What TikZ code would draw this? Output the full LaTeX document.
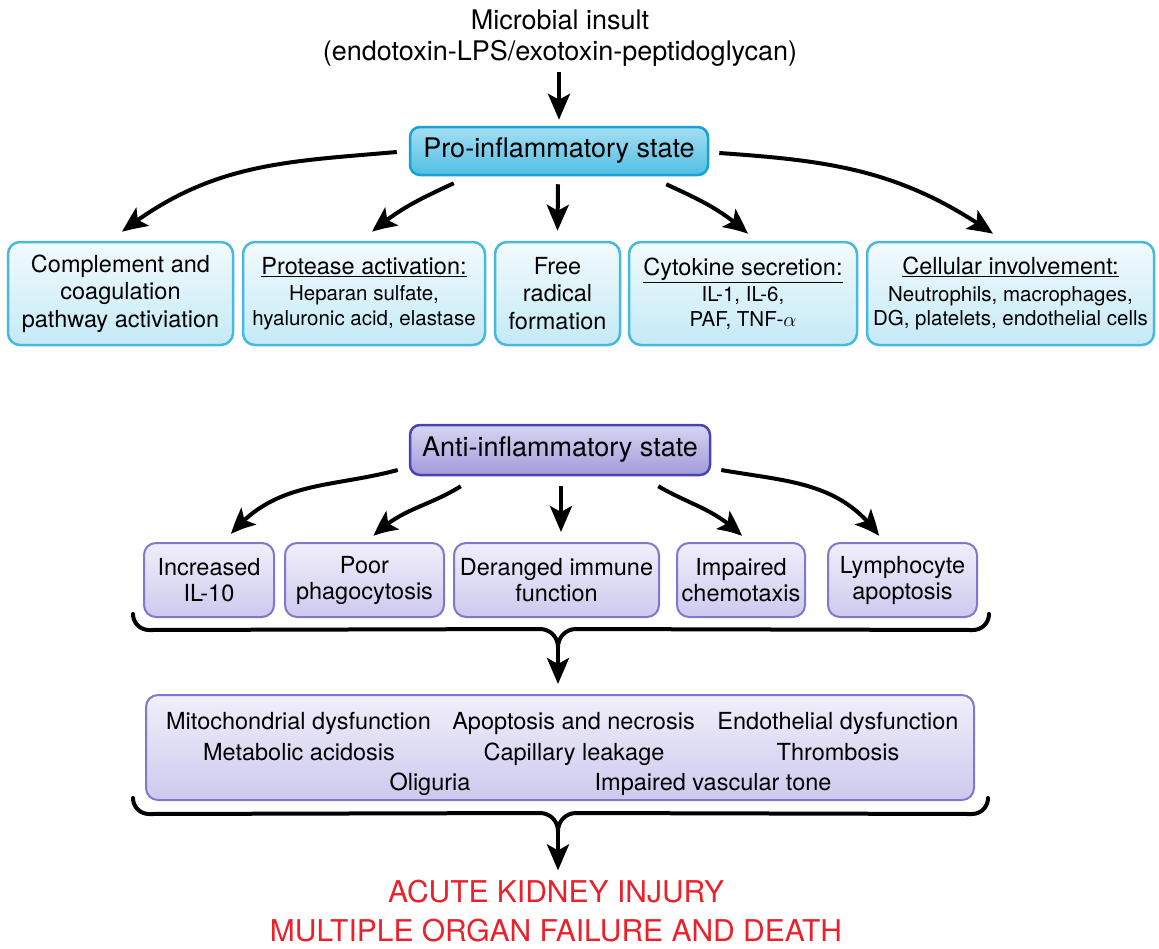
\documentclass[tikz,border=0pt]{standalone}
\usepackage{fontspec}
\setmainfont{TeX Gyre Heros}
\usetikzlibrary{arrows.meta,bending,calc}
\definecolor{proDraw}{RGB}{25,160,212}
\definecolor{proTop}{RGB}{165,222,242}
\definecolor{proBot}{RGB}{80,190,228}
\definecolor{cyDraw}{RGB}{70,185,225}
\definecolor{cyTop}{RGB}{242,250,253}
\definecolor{cyBot}{RGB}{196,234,246}
\definecolor{antiDraw}{RGB}{72,68,178}
\definecolor{antiTop}{RGB}{215,213,242}
\definecolor{antiBot}{RGB}{160,155,218}
\definecolor{laDraw}{RGB}{128,120,204}
\definecolor{laTop}{RGB}{240,239,250}
\definecolor{laBot}{RGB}{205,201,238}
\definecolor{akiRed}{RGB}{236,32,42}
\newcommand\fTitle{\fontsize{27pt}{31pt}\selectfont}
\newcommand\fState{\fontsize{27pt}{31pt}\selectfont}
\newcommand\fBox{\fontsize{23.5pt}{27.5pt}\selectfont}
\newcommand\fSub{\fontsize{20.5pt}{23.5pt}\selectfont}
\newcommand\fRed{\fontsize{30pt}{36pt}\selectfont}
\begin{document}
\begin{tikzpicture}[x=1pt,y=1pt,
  arr/.style={line width=4pt,-{Stealth[length=26pt,width=22pt,inset=6pt,bend]}},
  probox/.style={draw=proDraw,line width=2.5pt,rounded corners=10pt,top color=proTop,bottom color=proBot,align=center,font=\fState,inner sep=0pt},
  cybox/.style={draw=cyDraw,line width=2.5pt,rounded corners=12pt,top color=cyTop,bottom color=cyBot,align=center,font=\fBox,inner sep=0pt},
  antibox/.style={draw=antiDraw,line width=2.5pt,rounded corners=10pt,top color=antiTop,bottom color=antiBot,align=center,font=\fState,inner sep=0pt},
  labox/.style={draw=laDraw,line width=2pt,rounded corners=12pt,top color=laTop,bottom color=laBot,align=center,font=\fontsize{23.5pt}{26pt}\selectfont,inner sep=0pt},
  itemtxt/.style={font=\fBox,anchor=base,inner sep=0pt},
  redtxt/.style={font=\fRed,text=akiRed,anchor=base,inner sep=0pt},
  bracestyle/.style={line width=4pt,line cap=round,line join=round}
]
\useasboundingbox (0,0) rectangle (1159,-948);

% title
\node[align=center,font=\fTitle,anchor=north,inner sep=0pt] (title) at (560,-10)
  {Microbial insult\\(endotoxin-LPS/exotoxin-peptidoglycan)};

% pro-inflammatory
\node[probox,minimum width=298pt,minimum height=48pt] (pro) at (559,-151) {Pro-inflammatory state};
\draw[arr] ([yshift=-5pt]title.south -| pro.north) -- ([yshift=6pt]pro.north);

% top row boxes
\node[cybox,minimum width=225pt,minimum height=103pt] (b1) at (120.5,-293.5)
  {Complement and\\coagulation\\pathway activiation};
\node[cybox,minimum width=242pt,minimum height=103pt] (b2) at (364,-293.5)
  {\underline{Protease activation:}\\[-1pt]{\fSub Heparan sulfate,}\\[-3pt]{\fSub hyaluronic acid, elastase}};
\node[cybox,minimum width=125pt,minimum height=103pt] (b3) at (557.5,-293.5)
  {Free\\radical\\formation};
\node[cybox,minimum width=228pt,minimum height=103pt] (b4) at (743,-293.5)
  {\underline{Cytokine secretion:}\\[-1pt]{\fSub IL-1, IL-6,}\\[-3pt]{\fSub PAF, TNF-$\alpha$}};
\node[cybox,minimum width=287pt,minimum height=103pt] (b5) at (1010.5,-293.5)
  {\underline{Cellular involvement:}\\[-1pt]{\fSub Neutrophils, macrophages,}\\[-3pt]{\fSub DG, platelets, endothelial cells}};

\draw[arr] ($(pro.west)+(-12,-1)$) to[out=185,in=38] ($(b1.north)+(1.5,9)$);
\draw[arr] ($(pro.south west)+(45,-7)$) to[out=205,in=40] ($(b2.north)+(8,9)$);
\draw[arr] ($(pro.south)+(-1,-8)$) -- ($(b3.north)+(0,10)$);
\draw[arr] ($(pro.south east)+(-43,-8)$) to[out=-25,in=138] ($(b4.north)+(5,7)$);
\draw[arr] ($(pro.east)+(10,-2)$) to[out=-4,in=145] ($(b5.north)+(-17.5,7)$);

% anti-inflammatory
\node[antibox,minimum width=300pt,minimum height=50pt] (anti) at (560,-450) {Anti-inflammatory state};

\node[labox,minimum width=130pt,minimum height=74pt] (a1) at (209,-580) {Increased\\IL-10};
\node[labox,minimum width=159pt,minimum height=74pt] (a2) at (364.5,-580) {Poor\\phagocytosis};
\node[labox,minimum width=205pt,minimum height=74pt] (a3) at (556.5,-580) {Deranged immune\\function};
\node[labox,minimum width=128pt,minimum height=74pt] (a4) at (741,-580) {Impaired\\chemotaxis};
\node[labox,minimum width=149pt,minimum height=74pt] (a5) at (902.5,-580) {Lymphocyte\\apoptosis};

\draw[arr] ($(anti.west)+(-11,-20)$) to[out=195,in=50] ($(a1.north)+(22,8)$);
\draw[arr] ($(anti.south west)+(52,-10)$) to[out=212,in=45] ($(a2.north)+(9,6)$);
\draw[arr] ($(anti.south)+(1,-10)$) -- ($(a3.north)+(4.5,10)$);
\draw[arr] ($(anti.south east)+(-53,-10)$) to[out=-30,in=135] ($(a4.north)+(1,6)$);
\draw[arr] ($(anti.east)+(10,-20)$) to[out=-10,in=125] ($(a5.north)+(-23.5,6)$);

% first brace
\coordinate (br1l) at ($(a1.south west)+(-10,4)$);
\coordinate (br1r) at ($(a5.south east)+(11,4)$);
\coordinate (br1tip) at (558,-647);
\draw[bracestyle] (br1l) to[out=-90,in=180] ($(br1l)+(16,-16)$) -- (540,-629)
  to[out=0,in=90] (br1tip) to[out=90,in=180] (576,-629) -- ($(br1r)+(-16,-16)$)
  to[out=0,in=-90] (br1r);

% consequences box
\node[labox,minimum width=828pt,minimum height=105pt] (cons) at (560,-747.5) {};
\draw[arr] (br1tip) -- ($(cons.north)+(-2,10)$);

\node[itemtxt] (c1) at (298.5,-729) {Mitochondrial dysfunction};
\node[itemtxt] (c2) at (573.5,-729) {Apoptosis and necrosis};
\node[itemtxt] (c3) at (838,-729) {Endothelial dysfunction};
\node[itemtxt] (c4) at (299,-760) {Metabolic acidosis};
\node[itemtxt] (c5) at (574,-760) {Capillary leakage};
\node[itemtxt] (c6) at (838,-760) {Thrombosis};
\node[itemtxt] (c7) at (430,-790) {Oliguria};
\node[itemtxt] (c8) at (713,-790) {Impaired vascular tone};

% second brace
\coordinate (br2l) at ($(cons.south west)+(-12,3)$);
\coordinate (br2r) at ($(cons.south east)+(13,3)$);
\coordinate (br2tip) at (558,-831);
\draw[bracestyle] (br2l) to[out=-90,in=180] ($(br2l)+(16,-16)$) -- (540,-813)
  to[out=0,in=90] (br2tip) to[out=90,in=180] (576,-813) -- ($(br2r)+(-16,-16)$)
  to[out=0,in=-90] (br2r);

\node[redtxt] (aki) at (556,-902) {ACUTE KIDNEY INJURY};
\node[redtxt] (mof) at (556,-941) {MULTIPLE ORGAN FAILURE AND DEATH};
\draw[arr] (br2tip) -- ($(aki.north)+(2,9)$);
\end{tikzpicture}
\end{document}
